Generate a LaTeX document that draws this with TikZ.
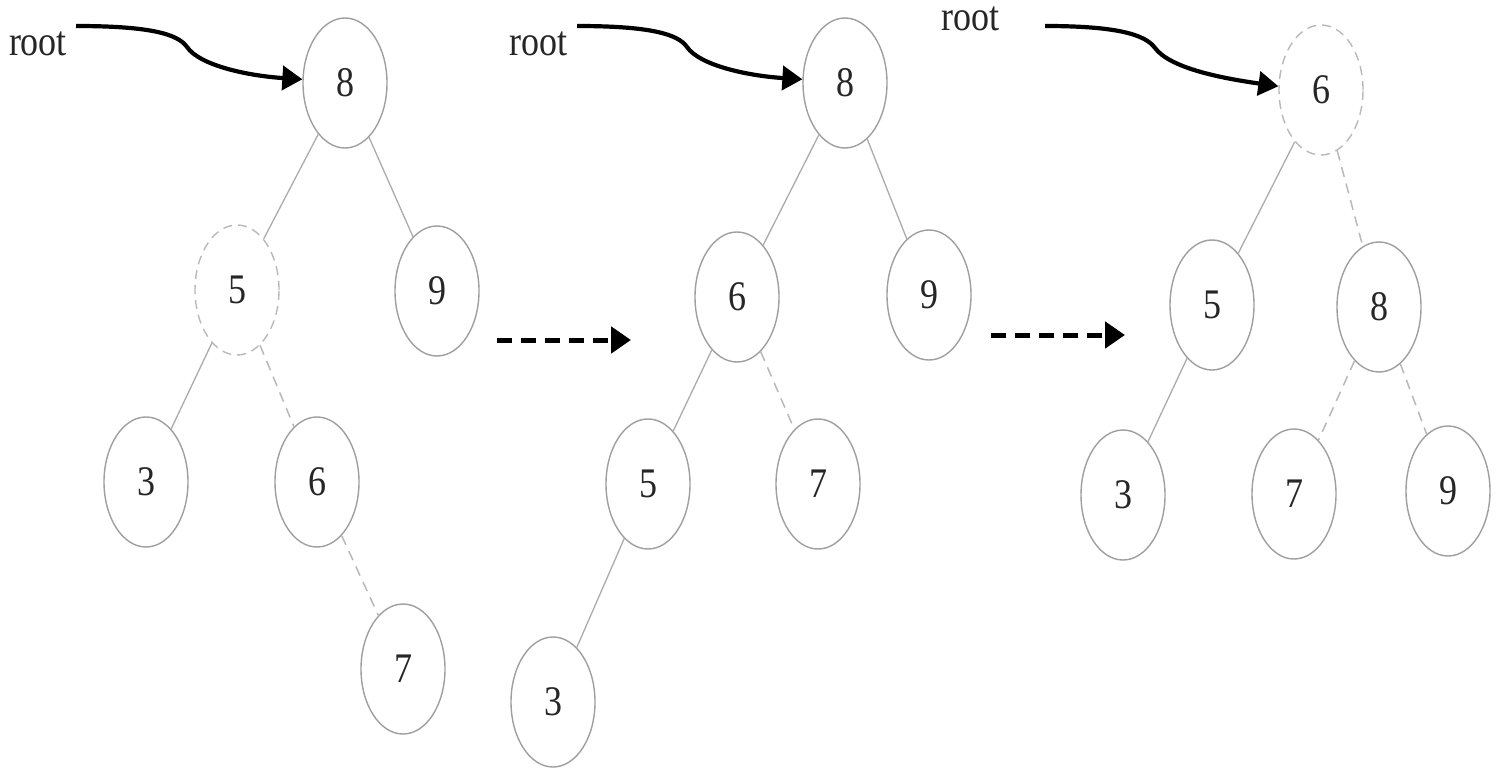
\documentclass[tikz,border=0pt]{standalone}
\usepackage{fontspec}
\setmainfont{Liberation Serif}
\usetikzlibrary{shapes.geometric,arrows.meta}
\newcommand{\talltext}[1]{\scalebox{1}[1.17]{#1}}
\tikzset{
  tnode/.style={ellipse,draw=gray!75,line width=1.4pt,minimum width=84pt,minimum height=130pt,inner sep=0pt,font=\fontsize{36}{36}\selectfont,text=black!85},
  dnode/.style={tnode,draw=gray!55,dash pattern=on 9pt off 6pt},
  sedge/.style={draw=gray!65,line width=1.3pt},
  dedge/.style={draw=gray!55,line width=1.5pt,dash pattern=on 10pt off 7pt},
  rootarrow/.style={line width=4.2pt,-{Triangle[length=20pt,width=24pt]}},
  steparrow/.style={line width=5pt,dash pattern=on 15pt off 9pt,-{Triangle[length=20pt,width=26pt]}},
  rootlabel/.style={font=\fontsize{36}{36}\selectfont,text=black!85,inner sep=0pt}
}
\begin{document}
\begin{tikzpicture}[x=1pt,y=-1pt]
\useasboundingbox[fill=white] (0,0) rectangle (1501,771);
% tree 1
\node[tnode] (a8) at (345,83) {\talltext{8}};
\node[dnode] (a5) at (237,290) {\talltext{5}};
\node[tnode] (a9) at (437,291) {\talltext{9}};
\node[tnode] (a3) at (146,482) {\talltext{3}};
\node[tnode] (a6) at (317,482) {\talltext{6}};
\node[tnode] (a7) at (403,669) {\talltext{7}};
\draw[sedge] (a8) -- (a5);
\draw[sedge] (a8) -- (a9);
\draw[sedge] (a5) -- (a3);
\draw[dedge] (a5) -- (a6);
\draw[dedge] (a6) -- (a7);
\node[rootlabel] (ra) at (38,44) {\talltext{root}};
\coordinate (ras) at (76,26);
\draw[rootarrow] (ras) .. controls (150,26) and (178,34) .. (187,47) .. controls (200,66) and (250,76) .. (a8.175);
% tree 2
\node[tnode] (b8) at (845,83) {\talltext{8}};
\node[tnode] (b6) at (737,297) {\talltext{6}};
\node[tnode] (b9) at (929,295) {\talltext{9}};
\node[tnode] (b5) at (648,484) {\talltext{5}};
\node[tnode] (b7) at (818,484) {\talltext{7}};
\node[tnode] (b3) at (553,702) {\talltext{3}};
\draw[sedge] (b8) -- (b6);
\draw[sedge] (b8) -- (b9);
\draw[sedge] (b6) -- (b5);
\draw[dedge] (b6) -- (b7);
\draw[sedge] (b5) -- (b3);
\node[rootlabel] (rb) at (538,44) {\talltext{root}};
\coordinate (rbs) at (577,26);
\draw[rootarrow] (rbs) .. controls (650,26) and (678,34) .. (687,47) .. controls (700,66) and (750,76) .. (b8.175);
% tree 3
\node[dnode] (c6) at (1321,90) {\talltext{6}};
\node[tnode] (c5) at (1212,305) {\talltext{5}};
\node[tnode] (c8) at (1379,307) {\talltext{8}};
\node[tnode] (c3) at (1123,495) {\talltext{3}};
\node[tnode] (c7) at (1294,494) {\talltext{7}};
\node[tnode] (c9) at (1448,491) {\talltext{9}};
\draw[sedge] (c6) -- (c5);
\draw[dedge] (c6) -- (c8);
\draw[sedge] (c5) -- (c3);
\draw[dedge] (c8) -- (c7);
\draw[dedge] (c8) -- (c9);
\node[rootlabel] (rc) at (970,19) {\talltext{root}};
\coordinate (rcs) at (1045,26);
\draw[rootarrow] (rcs) .. controls (1115,26) and (1145,34) .. (1155,48) .. controls (1170,68) and (1220,78) .. (c6.175);
% step arrows
\coordinate (s1a) at (497,340);
\coordinate (s1b) at (631,340);
\draw[steparrow] (s1a) -- (s1b);
\coordinate (s2a) at (991,335);
\coordinate (s2b) at (1125,335);
\draw[steparrow] (s2a) -- (s2b);
\end{tikzpicture}
\end{document}
